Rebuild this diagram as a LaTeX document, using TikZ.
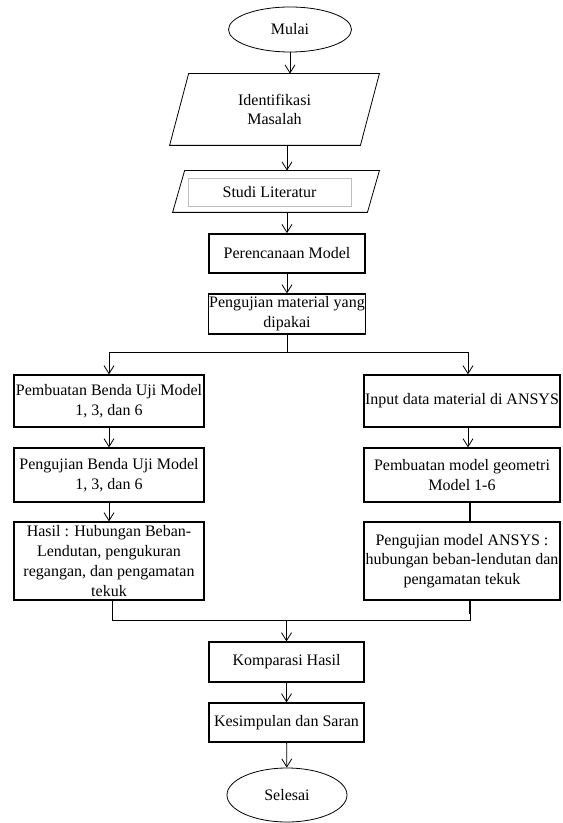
\documentclass[tikz,border=0pt]{standalone}
\usepackage{fontspec}
\setmainfont{Liberation Serif}
\usetikzlibrary{positioning, arrows.meta, calc, shapes.geometric}

\begin{document}
\begin{tikzpicture}[
    x=0.75pt, y=-0.75pt,    % 座標はピクセル単位（下向きが正）
    line width=0.6pt,
    >={Straight Barb[length=6pt,width=7.5pt]},
    font=\fontsize{12}{14.8}\selectfont,
    % 開始・終了の楕円
    term_oval/.style={ellipse, draw, inner sep=0pt},
    % 平行四辺形の中身（枠は後で描く）
    io_shape/.style={rectangle, inner sep=0pt, align=center},
    % 処理ボックス
    proc_box/.style={rectangle, draw, line width=0.9pt, align=center, inner sep=0.5pt}
]
    \useasboundingbox (0,0) rectangle (562,823);

    % --- 1. 上部（開始〜材料試験） ---
    \node [term_oval, minimum width=92.25pt, minimum height=33.75pt] (mulai) at (290,29.5) {Mulai};

    \node [io_shape, minimum width=156.75pt, minimum height=53.25pt] (identifikasi) at (274.5,109.5) {Identifikasi\\Masalah};
    \draw ($(identifikasi.north west)+(19,0)$) -- (identifikasi.north east)
        -- ($(identifikasi.south east)+(-19,0)$) -- (identifikasi.south west) -- cycle;

    \node [io_shape, minimum width=154.5pt, minimum height=30.75pt] (studi) at (276,191.5) {};
    \draw ($(studi.north west)+(12,0)$) -- (studi.north east)
        -- ($(studi.south east)+(-12,0)$) -- (studi.south west) -- cycle;
    % 平行四辺形の中の灰色の枠
    \node [draw=black!25, minimum width=122.25pt, minimum height=21pt, inner sep=0pt] (studi_teks) at (269.5,192) {Studi Literatur};

    \node [proc_box, line width=1.3pt, minimum width=117pt, minimum height=29.25pt] (rencana) at (287,253.5) {Perencanaan Model};
    \node [proc_box, minimum width=117pt, minimum height=30pt] (material) at (287,314) {Pengujian material yang\\dipakai};

    % --- 2. 左列（試験体） ---
    \node [proc_box, minimum width=142.5pt, minimum height=39pt] (buat_benda) at (109,401) {Pembuatan Benda Uji Model\\1, 3, dan 6};
    \node [proc_box, minimum width=142.5pt, minimum height=40.5pt] (uji_benda) at (109,475) {Pengujian Benda Uji Model\\1, 3, dan 6};
    \node [proc_box, minimum width=142.5pt, minimum height=58.5pt] (hasil) at (109,561) {Hasil : Hubungan Beban-\\Lendutan, pengukuran\\regangan, dan pengamatan\\tekuk};

    % --- 3. 右列（ANSYS） ---
    \node [proc_box, minimum width=147pt, minimum height=39pt] (input) at (462,401) {Input data material di ANSYS};
    \node [proc_box, minimum width=147pt, minimum height=40.5pt] (geometri) at (462,475) {Pembuatan model geometri\\Model 1-6};
    \node [proc_box, minimum width=147pt, minimum height=58.5pt] (ansys) at (462,561) {Pengujian model ANSYS :\\hubungan beban-lendutan dan\\pengamatan tekuk};

    % --- 4. 下部（比較〜終了） ---
    \node [proc_box, minimum width=116.25pt, minimum height=30pt] (komparasi) at (286.5,662) {Komparasi Hasil};
    \node [proc_box, minimum width=116.25pt, minimum height=29.25pt] (kesimpulan) at (286.5,722.5) {Kesimpulan dan Saran};
    \node [term_oval, minimum width=90pt, minimum height=40.5pt] (selesai) at (287,795) {Selesai};

    % --- 5. 矢印 ---
    \draw [->] (mulai) -- (mulai |- identifikasi.north);
    \draw [->] (rencana |- identifikasi.south) -- (rencana |- studi.north);
    \draw [->] (rencana |- studi.south) -- (rencana);
    \draw [->] (rencana) -- (material);

    % 分岐
    \coordinate (cabang) at ($(material.south)+(0,18)$);
    \draw (material) -- (cabang);
    \draw [->] (cabang) -| (buat_benda.north);
    \draw [->] (cabang) -| ([xshift=4.5pt]input.north);

    \draw [->] (buat_benda) -- (uji_benda);
    \draw [->] (uji_benda) -- (hasil);
    \draw [->] ([xshift=4.5pt]input.south) -- ([xshift=4.5pt]geometri.north);
    \draw [line width=1.2pt] ([xshift=6pt]geometri.south) -- ([xshift=6pt]ansys.north);

    % 合流
    \coordinate (gabung) at ($(komparasi.north)+(0,-21)$);
    \draw ([xshift=2.25pt]hasil.south) |- (gabung);
    \draw ([xshift=6pt]ansys.south) |- (gabung);
    \draw [line width=1.2pt] ([xshift=6pt]ansys.south) -- ++(0,13);
    \draw [->] (gabung) -- (komparasi);

    \draw [->] (komparasi) -- (kesimpulan);
    \draw [->] (kesimpulan) -- (selesai);

\end{tikzpicture}
\end{document}
